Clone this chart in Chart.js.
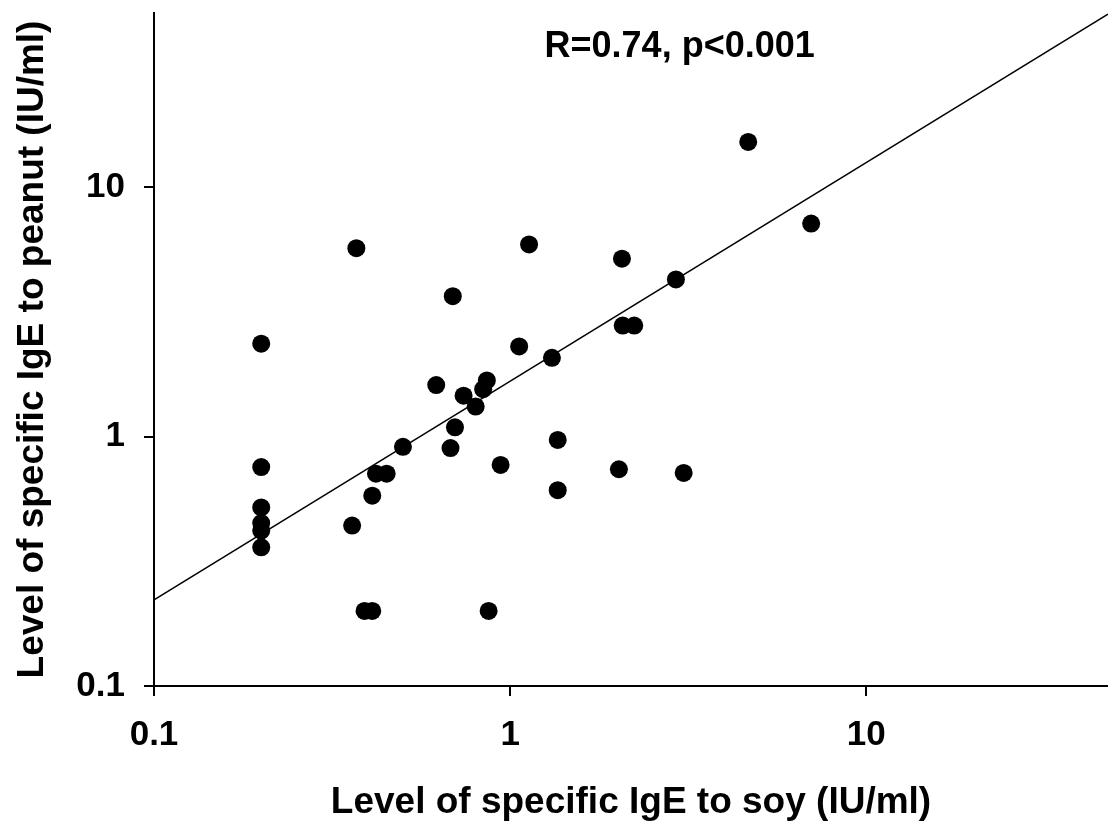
<!DOCTYPE html>
<html>
<head>
<meta charset="utf-8">
<title>Soy vs peanut IgE</title>
<script src="https://cdn.jsdelivr.net/npm/chart.js@4.4.1/dist/chart.umd.min.js"></script>
<style>
  body { margin: 0; background: #fff; }
  canvas { display: block; }
</style>
</head>
<body>
<canvas id="igeChart" width="1108" height="829"></canvas>
<script>
// specific IgE (IU/ml), one entry per patient
const soyIgE = [4.66, 7.0, 0.37, 1.13, 0.69, 2.06, 2.92, 2.07, 2.23, 0.2,
  1.06, 1.31, 0.62, 0.86, 0.84, 0.74, 0.80, 0.70, 0.68, 0.50,
  1.36, 0.2, 0.94, 2.02, 3.07, 0.42, 0.45, 0.41, 1.36, 0.2,
  0.2, 0.2, 0.2, 0.36, 0.39, 0.41, 0.87];
const peanutIgE = [15.2, 7.15, 5.7, 5.9, 3.66, 5.17, 4.27, 2.79, 2.79, 2.36,
  2.3, 2.07, 1.61, 1.68, 1.55, 1.46, 1.32, 1.09, 0.90, 0.91,
  0.97, 0.755, 0.77, 0.74, 0.715, 0.71, 0.71, 0.58, 0.61, 0.52,
  0.45, 0.42, 0.36, 0.44, 0.2, 0.2, 0.2];

// regression line end points
const fitSoy = [0.1, 47.7];
const fitPeanut = [0.2215, 49.5];

const tickValues = [0.1, 1, 10];
const statsText = "R=0.74, p<0.001";

const xTitle = "Level of specific IgE to soy (IU/ml)";
const yTitle = "Level of specific IgE to peanut (IU/ml)";

const fontFamily = "'Liberation Sans', Arial, Helvetica, sans-serif";

const points = soyIgE.map((x, i) => ({ x: x, y: peanutIgE[i] }));
const fitPoints = fitSoy.map((x, i) => ({ x: x, y: fitPeanut[i] }));

// writes the R / p value above the plot
const statsLabel = {
  id: "statsLabel",
  afterDraw(chart) {
    const c = chart.ctx;
    const area = chart.chartArea;
    c.save();
    c.font = "bold 36px " + fontFamily;
    c.fillStyle = "#000";
    c.textAlign = "center";
    c.textBaseline = "alphabetic";
    c.fillText(statsText, area.left + (area.right - area.left) * 0.551, area.top + 44);
    c.restore();
  },
};

const onlyDecades = (scale) => {
  scale.ticks = tickValues.map((v) => ({ value: v }));
};

const ctx = document.getElementById("igeChart");

new Chart(ctx, {
  type: "scatter",
  data: {
    datasets: [
      {
        label: "patients",
        data: points,
        backgroundColor: "#000",
        borderColor: "#000",
        pointRadius: 9,
        pointHoverRadius: 9,
        borderWidth: 0,
        order: 1,
      },
      {
        label: "fit",
        data: fitPoints,
        showLine: true,
        borderColor: "#000",
        borderWidth: 1.6,
        pointRadius: 0,
        fill: false,
        order: 2,
      },
    ],
  },
  options: {
    responsive: false,
    animation: false,
    layout: { autoPadding: false, padding: { top: 13, right: 0, bottom: 0, left: 0 } },
    plugins: {
      legend: { display: false },
      tooltip: { enabled: false },
    },
    scales: {
      x: {
        type: "logarithmic",
        min: 0.1,
        max: 47.7,
        afterBuildTicks: onlyDecades,
        afterFit: (s) => {
          s.height = 143;
          s.paddingLeft = 0;
          s.paddingRight = 0;
        },
        border: { display: true, color: "#000", width: 2 },
        grid: { drawOnChartArea: false, drawTicks: true, tickLength: 10, color: "#000", lineWidth: 2 },
        ticks: {
          color: "#000",
          padding: 18,
          maxRotation: 0,
          autoSkip: false,
          font: { family: fontFamily, size: 35, weight: "bold" },
          callback: (v) => String(v),
        },
        title: {
          display: true,
          text: xTitle,
          color: "#000",
          padding: { top: 0, bottom: 4 },
          font: { family: fontFamily, size: 37, weight: "bold" },
        },
      },
      y: {
        type: "logarithmic",
        min: 0.1,
        max: 50,
        afterBuildTicks: onlyDecades,
        afterFit: (s) => {
          s.width = 154;
          s.paddingTop = 0;
          s.paddingBottom = 0;
        },
        border: { display: true, color: "#000", width: 2 },
        grid: { drawOnChartArea: false, drawTicks: true, tickLength: 10, color: "#000", lineWidth: 2 },
        ticks: {
          color: "#000",
          padding: 19,
          autoSkip: false,
          font: { family: fontFamily, size: 35, weight: "bold" },
          callback: (v) => String(v),
        },
        title: {
          display: true,
          text: yTitle,
          color: "#000",
          padding: { top: 11, bottom: 0 },
          font: { family: fontFamily, size: 37, weight: "bold" },
        },
      },
    },
  },
  plugins: [statsLabel],
});
</script>
</body>
</html>
